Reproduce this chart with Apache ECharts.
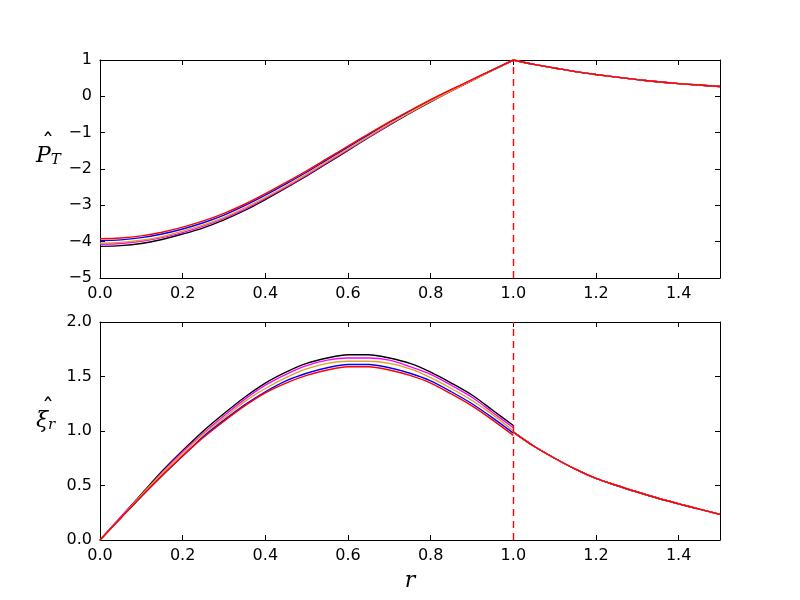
<!DOCTYPE html>
<html>
<head>
<meta charset="utf-8">
<script src="https://cdn.jsdelivr.net/npm/echarts@6/dist/echarts.min.js"></script>
<style>
    html, body { margin: 0; padding: 0; background: #fff; }
    #chart { width: 800px; height: 600px; }
</style>
</head>
<body>
<div id="chart"></div>
<script>
// r grid, inside (0..1) and outside (1..1.5)
const rIn = [0, 0.05, 0.1, 0.15, 0.2, 0.25, 0.3, 0.35, 0.4, 0.45, 0.5, 0.55, 0.6, 0.65, 0.7, 0.75, 0.8, 0.85, 0.9, 0.95, 1.0];
const rOut = [1.0, 1.05, 1.1, 1.15, 1.2, 1.25, 1.3, 1.35, 1.4, 1.45, 1.5];

// 上图 P_T
const ptBlack = [-4.13, -4.11, -4.05, -3.94, -3.79, -3.62, -3.40, -3.14, -2.84, -2.52, -2.19, -1.84, -1.49, -1.13, -0.79, -0.46, -0.15, 0.15, 0.43, 0.72, 1.00];
const ptBlue = [-3.97, -3.95, -3.89, -3.79, -3.65, -3.48, -3.27, -3.01, -2.72, -2.41, -2.09, -1.74, -1.40, -1.06, -0.72, -0.41, -0.11, 0.18, 0.45, 0.73, 1.00];
const ptMagenta = [-4.07, -4.05, -3.99, -3.89, -3.75, -3.57, -3.36, -3.11, -2.81, -2.50, -2.17, -1.82, -1.47, -1.12, -0.78, -0.45, -0.14, 0.15, 0.44, 0.72, 1.00];
const ptOrange = [-4.04, -4.02, -3.96, -3.86, -3.71, -3.54, -3.33, -3.07, -2.78, -2.47, -2.14, -1.79, -1.45, -1.10, -0.76, -0.44, -0.13, 0.16, 0.44, 0.72, 1.00];
const ptRed = [-3.92, -3.90, -3.84, -3.74, -3.60, -3.43, -3.22, -2.97, -2.68, -2.37, -2.05, -1.71, -1.37, -1.03, -0.70, -0.39, -0.09, 0.19, 0.46, 0.73, 1.00];
const ptOut = [1.00, 0.88, 0.78, 0.68, 0.60, 0.53, 0.46, 0.40, 0.35, 0.31, 0.27];

// 下图 xi_r
const xiBlack = [0, 0.21, 0.42, 0.63, 0.82, 1.00, 1.16, 1.31, 1.44, 1.54, 1.62, 1.67, 1.70, 1.70, 1.67, 1.62, 1.54, 1.44, 1.33, 1.19, 1.05];
const xiBlue = [0, 0.20, 0.40, 0.59, 0.77, 0.95, 1.10, 1.24, 1.36, 1.46, 1.53, 1.58, 1.61, 1.61, 1.58, 1.53, 1.46, 1.36, 1.25, 1.12, 0.98];
const xiMagenta = [0, 0.21, 0.41, 0.62, 0.81, 0.98, 1.14, 1.29, 1.42, 1.52, 1.60, 1.65, 1.67, 1.67, 1.65, 1.59, 1.52, 1.42, 1.31, 1.17, 1.03];
const xiOrange = [0, 0.20, 0.41, 0.61, 0.79, 0.97, 1.12, 1.27, 1.39, 1.49, 1.57, 1.62, 1.64, 1.64, 1.62, 1.57, 1.49, 1.39, 1.28, 1.15, 1.00];
const xiRed = [0, 0.20, 0.40, 0.59, 0.77, 0.94, 1.09, 1.23, 1.35, 1.44, 1.51, 1.56, 1.59, 1.59, 1.56, 1.51, 1.44, 1.34, 1.23, 1.10, 0.96];
const xiOut = [0.99, 0.86, 0.75, 0.65, 0.565, 0.50, 0.44, 0.383, 0.332, 0.283, 0.235];

const boundary = [1.0];
const colors = ['#000000', '#0000ff', '#ff00ff', '#daa520', '#ff0000'];
const ptSets = [ptBlack, ptBlue, ptMagenta, ptOrange, ptRed];
const xiSets = [xiBlack, xiBlue, xiMagenta, xiOrange, xiRed];

const font = 'DejaVu Sans';
const minus = (s) => String(s).replace('-', '\u2212');

const pairs = (inside, outside) => {
    const d = rIn.map((r, i) => [r, inside[i]]);
    d.push([rOut[0], '-']);
    return d.concat(rOut.map((r, i) => [r, outside[i]]));
};

const xBase = (grid, pos, show) => ({
    type: 'value',
    gridIndex: grid,
    position: pos,
    min: 0,
    max: 1.5,
    interval: 0.2,
    axisLine: { show: true, onZero: false, lineStyle: { color: '#000', width: 1 } },
    axisTick: { show: true, inside: true, length: 5, lineStyle: { color: '#000' } },
    axisLabel: {
        show: show,
        showMaxLabel: false,
        margin: 8,
        fontFamily: font,
        fontSize: 16,
        color: '#000',
        formatter: (v) => v.toFixed(1),
    },
    splitLine: { show: false },
});

const yBase = (grid, pos, show, min, max, interval, fmt) => ({
    type: 'value',
    gridIndex: grid,
    position: pos,
    min: min,
    max: max,
    interval: interval,
    axisLine: { show: true, onZero: false, lineStyle: { color: '#000', width: 1 } },
    axisTick: { show: true, inside: true, length: 5, lineStyle: { color: '#000' } },
    axisLabel: { show: show, margin: 8, fontFamily: font, fontSize: 16, color: '#000', formatter: fmt },
    splitLine: { show: false },
});

// 轴名: 上一行放帽子, 下一行放字母和下标
const mathRich = {
    h: { fontFamily: 'DejaVu Sans', fontSize: 24, color: '#000', lineHeight: 1, padding: [0, 0, 0, 6] },
    p: { fontFamily: 'DejaVu Serif', fontStyle: 'italic', fontSize: 22, color: '#000', verticalAlign: 'top', lineHeight: 22 },
    s: { fontFamily: 'DejaVu Serif', fontStyle: 'italic', fontSize: 15, color: '#000', verticalAlign: 'bottom', lineHeight: 22, padding: [12, 0, 0, 0] },
};

const series = [];
colors.forEach((c, k) => {
    series.push({
        type: 'line',
        xAxisIndex: 0,
        yAxisIndex: 0,
        data: pairs(ptSets[k], ptOut),
        showSymbol: false,
        smooth: 0.3,
        connectNulls: false,
        lineStyle: { color: c, width: 1.4 },
        itemStyle: { color: c },
    });
    series.push({
        type: 'line',
        xAxisIndex: 2,
        yAxisIndex: 2,
        data: pairs(xiSets[k], xiOut),
        showSymbol: false,
        smooth: 0.3,
        connectNulls: false,
        lineStyle: { color: c, width: 1.4 },
        itemStyle: { color: c },
    });
});

// 虚线 r = 1
[0, 2].forEach((ax) => {
    series.push({
        type: 'line',
        xAxisIndex: ax,
        yAxisIndex: ax,
        data: [],
        markLine: {
            silent: true,
            symbol: 'none',
            label: { show: false },
            lineStyle: { color: '#ff0000', type: [7, 5], width: 1.4 },
            data: boundary.map((b) => ({ xAxis: b })),
        },
    });
});

const chart = echarts.init(document.getElementById('chart'), null, { renderer: 'canvas' });
chart.setOption({
    animation: false,
    backgroundColor: '#fff',
    grid: [
        { left: 100, width: 620, top: 60, height: 218 },
        { left: 100, width: 620, top: 322, height: 218 },
    ],
    xAxis: [
        xBase(0, 'bottom', true),
        xBase(0, 'top', false),
        Object.assign(xBase(1, 'bottom', true), {
            name: 'r',
            nameLocation: 'middle',
            nameGap: 30,
            nameTextStyle: { fontFamily: 'DejaVu Serif', fontStyle: 'italic', fontSize: 22, color: '#000' },
        }),
        xBase(1, 'top', false),
    ],
    yAxis: [
        Object.assign(yBase(0, 'left', true, -5, 1, 1, (v) => minus(v)), {
            name: '{h|\u02c6}\n{p|P}{s|T}',
            nameLocation: 'middle',
            nameRotate: 0,
            nameGap: 64,
            nameTextStyle: { align: 'left', padding: [0, 0, 26, 0], rich: mathRich },
        }),
        yBase(0, 'right', false, -5, 1, 1),
        Object.assign(yBase(1, 'left', true, 0, 2, 0.5, (v) => v.toFixed(1)), {
            name: '{h|\u02c6}\n{p|\u03be}{s|r}',
            nameLocation: 'middle',
            nameRotate: 0,
            nameGap: 64,
            nameTextStyle: { align: 'left', padding: [0, 0, 20, 0], rich: mathRich },
        }),
        yBase(1, 'right', false, 0, 2, 0.5),
    ],
    series: series,
});
</script>
</body>
</html>
